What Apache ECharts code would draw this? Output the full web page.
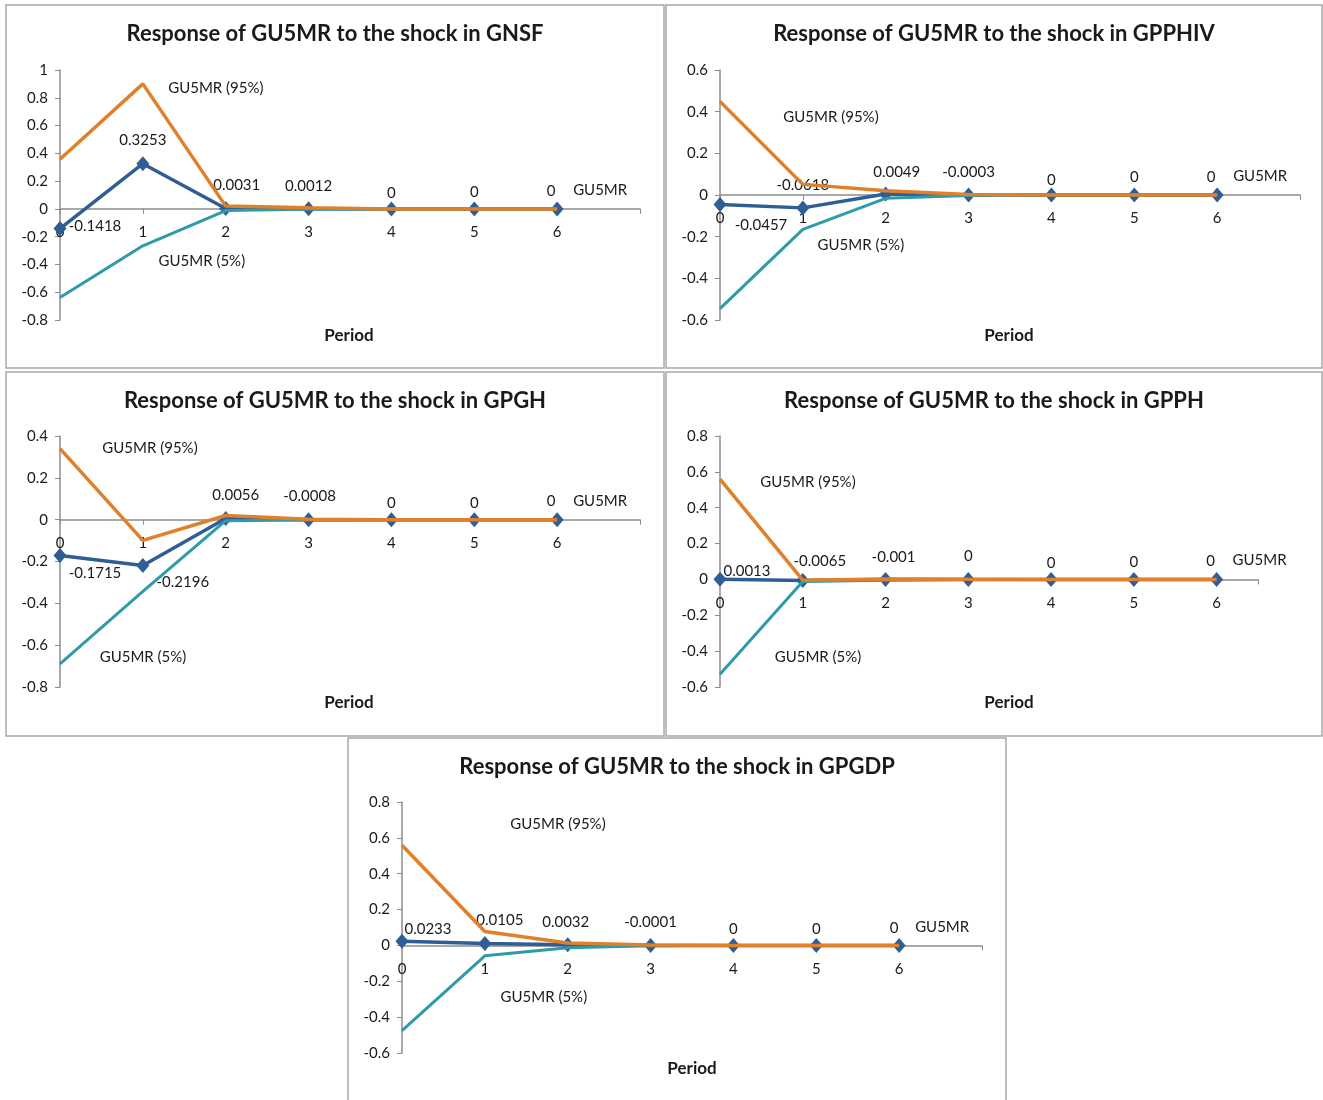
<!DOCTYPE html>
<html><head><meta charset="utf-8">
<script src="https://cdn.jsdelivr.net/npm/echarts@6/dist/echarts.min.js"></script>
<style>html,body{margin:0;padding:0;background:#fff}#c{width:1323px;height:1100px}</style>
</head><body><div id="c"></div>
<script>
// ---------- data ----------
const periods = [0, 1, 2, 3, 4, 5, 6];
const panelTitles = [
  'Response of GU5MR to the shock in GNSF',
  'Response of GU5MR to the shock in GPPHIV',
  'Response of GU5MR to the shock in GPGH',
  'Response of GU5MR to the shock in GPPH',
  'Response of GU5MR to the shock in GPGDP'
];
const seriesNames = ['GU5MR', 'GU5MR (95%)', 'GU5MR (5%)'];
const xAxisName = 'Period';

const gnsfIrf   = [-0.1418, 0.3253, 0.0031, 0.0012, 0, 0, 0];
const gnsfUp    = [0.357, 0.90, 0.02, 0.008, 0, 0, 0];
const gnsfLo    = [-0.638, -0.266, -0.012, -0.003, 0, 0, 0];

const gpphivIrf = [-0.0457, -0.0618, 0.0049, -0.0003, 0, 0, 0];
const gpphivUp  = [0.449, 0.051, 0.02, 0.002, 0, 0, 0];
const gpphivLo  = [-0.545, -0.165, -0.016, -0.002, 0, 0, 0];

const gpghIrf   = [-0.1715, -0.2196, 0.0056, -0.0008, 0, 0, 0];
const gpghUp    = [0.34, -0.099, 0.02, 0.002, 0, 0, 0];
const gpghLo    = [-0.689, -0.343, -0.005, -0.002, 0, 0, 0];

const gpphIrf   = [0.0013, -0.0065, -0.001, 0, 0, 0, 0];
const gpphUp    = [0.56, -0.004, 0.003, 0.001, 0, 0, 0];
const gpphLo    = [-0.529, -0.012, -0.004, -0.001, 0, 0, 0];

const gpgdpIrf  = [0.0233, 0.0105, 0.0032, -0.0001, 0, 0, 0];
const gpgdpUp   = [0.559, 0.078, 0.013, 0.002, 0, 0, 0];
const gpgdpLo   = [-0.475, -0.058, -0.013, -0.002, 0, 0, 0];

const yMin = [-0.8, -0.6, -0.8, -0.6, -0.6];
const yMax = [1, 0.6, 0.4, 0.8, 0.8];
const yStep = 0.2;
const xMax = [7, 7, 7, 6.5, 7];

const panelData = [
  [gnsfIrf, gnsfUp, gnsfLo],
  [gpphivIrf, gpphivUp, gpphivLo],
  [gpghIrf, gpghUp, gpghLo],
  [gpphIrf, gpphUp, gpphLo],
  [gpgdpIrf, gpgdpUp, gpgdpLo]
];

// ---------- layout / style ----------
const layout = [
  { box: [6, 5, 658, 363], grid: [60, 70, 580, 250], title: [335, 34], period: [349, 336],
    irfOff: [[35,-2],[0,-24],[11,-23],[0,-23],[0,-16],[0,-17],[-6,-18]], end: [11,-19],
    up: [1, 73, 4], lo: [1, 59, 15] },
  { box: [666, 5, 656, 363], grid: [720, 70, 580, 250], title: [994, 34], period: [1009, 336],
    irfOff: [[41,21],[0,-23],[11,-22],[0,-23],[0,-15],[0,-18],[-6,-18]], end: [11,-19],
    up: [0, 111, 16], lo: [1, 58, 16] },
  { box: [6, 372, 658, 364], grid: [60, 436, 580, 251], title: [335, 401], period: [349, 703],
    irfOff: [[35,18],[40,17],[10,-23],[1,-24],[0,-17],[0,-17],[-6,-19]], end: [11,-19],
    up: [0, 90, 0], lo: [0, 83, -7] },
  { box: [666, 372, 656, 364], grid: [720, 436, 538, 251], title: [994, 401], period: [1009, 703],
    irfOff: [[27,-8],[17,-19],[8,-22],[0,-23],[0,-16],[0,-17],[-6,-18]], end: [11,-19],
    up: [0, 88, 3], lo: [0, 98, -17] },
  { box: [348, 738, 658, 380], grid: [402, 802, 580, 251], title: [677, 767], period: [692, 1069],
    irfOff: [[26,-12],[15,-23],[-2,-23],[0,-23],[0,-16],[0,-16],[-5,-17]], end: [11,-18],
    up: [0, 156, -21], lo: [1, 59, 41] }
];

const FONT = 'Lato, "Open Sans", sans-serif';
const FS = 15;
const TXT = '#1a1a1a';
const AXIS = '#8c8c8c';
const C_IRF = '#2F5E95', C_UP = '#E0802A', C_LO = '#2E9AAA';

const grids = [], xAxes = [], yAxes = [], series = [], graphics = [];

layout.forEach((L, i) => {
  graphics.push({ type: 'rect', silent: true, z: -10,
    shape: { x: L.box[0], y: L.box[1], width: L.box[2], height: L.box[3] },
    style: { fill: '#fff', stroke: '#a9a9a9', lineWidth: 1.5 } });
  graphics.push({ type: 'text', x: L.title[0], y: L.title[1], silent: true,
    style: { text: panelTitles[i], textAlign: 'center', textVerticalAlign: 'middle',
      font: 'bold 22px ' + FONT, fill: TXT } });
  graphics.push({ type: 'text', x: L.period[0], y: L.period[1], silent: true,
    style: { text: xAxisName, textAlign: 'center', textVerticalAlign: 'middle',
      font: 'bold 17px ' + FONT, fill: TXT } });

  // distance from bottom of plot to the zero line, so x labels sit under the zero axis
  const zeroFromBottom = L.grid[3] * (0 - yMin[i]) / (yMax[i] - yMin[i]);

  grids.push({ left: L.grid[0], top: L.grid[1], width: L.grid[2], height: L.grid[3], containLabel: false });
  xAxes.push({
    type: 'value', gridIndex: i, min: 0, max: xMax[i], interval: 1,
    axisLine: { show: true, onZero: true, lineStyle: { color: AXIS, width: 1.5 } },
    axisTick: { show: true, length: 5, lineStyle: { color: AXIS } },
    splitLine: { show: false },
    axisLabel: { margin: 16 - zeroFromBottom, color: TXT, fontFamily: FONT, fontSize: FS,
      formatter: v => (v <= 6 && Number.isInteger(v)) ? String(v) : '' }
  });
  yAxes.push({
    type: 'value', gridIndex: i, min: yMin[i], max: yMax[i], interval: yStep,
    axisLine: { show: true, lineStyle: { color: AXIS, width: 1.5 } },
    axisTick: { show: true, length: 5, lineStyle: { color: AXIS } },
    splitLine: { show: false },
    axisLabel: { margin: 12, color: TXT, fontFamily: FONT, fontSize: FS,
      formatter: v => String(Math.round(v * 10) / 10) }
  });

  const [irf, up, lo] = panelData[i];
  const lbl = (dx, dy, txt) => ({ show: true, position: 'inside', offset: [dx, dy],
    align: 'center', verticalAlign: 'middle', color: TXT, fontFamily: FONT, fontSize: FS,
    formatter: txt });

  series.push({
    name: seriesNames[0], type: 'line', xAxisIndex: i, yAxisIndex: i, z: 3,
    symbol: 'diamond', symbolSize: [13, 15], showSymbol: true,
    lineStyle: { color: C_IRF, width: 3.5 }, itemStyle: { color: C_IRF },
    data: periods.map((p, k) => ({ value: [p, irf[k]],
      label: lbl(L.irfOff[k][0], L.irfOff[k][1], String(irf[k])) })),
    endLabel: { show: true, formatter: seriesNames[0], offset: [L.end[0], L.end[1]],
      distance: 5, color: TXT, fontFamily: FONT, fontSize: FS }
  });
  series.push({
    name: seriesNames[2], type: 'line', xAxisIndex: i, yAxisIndex: i, z: 4,
    symbol: 'circle', symbolSize: 0.1, showSymbol: true,
    lineStyle: { color: C_LO, width: 3 }, itemStyle: { color: C_LO },
    data: periods.map((p, k) => {
      const d = { value: [p, lo[k]] };
      if (k === L.lo[0]) d.label = lbl(L.lo[1], L.lo[2], seriesNames[2]);
      return d;
    })
  });
  series.push({
    name: seriesNames[1], type: 'line', xAxisIndex: i, yAxisIndex: i, z: 5,
    symbol: 'circle', symbolSize: 0.1, showSymbol: true,
    lineStyle: { color: C_UP, width: 3.5 }, itemStyle: { color: C_UP },
    data: periods.map((p, k) => {
      const d = { value: [p, up[k]] };
      if (k === L.up[0]) d.label = lbl(L.up[1], L.up[2], seriesNames[1]);
      return d;
    })
  });
});

const chart = echarts.init(document.getElementById('c'), null, { renderer: 'canvas' });
chart.setOption({
  animation: false,
  backgroundColor: '#fff',
  grid: grids, xAxis: xAxes, yAxis: yAxes, series: series,
  graphic: graphics
});
</script></body></html>
